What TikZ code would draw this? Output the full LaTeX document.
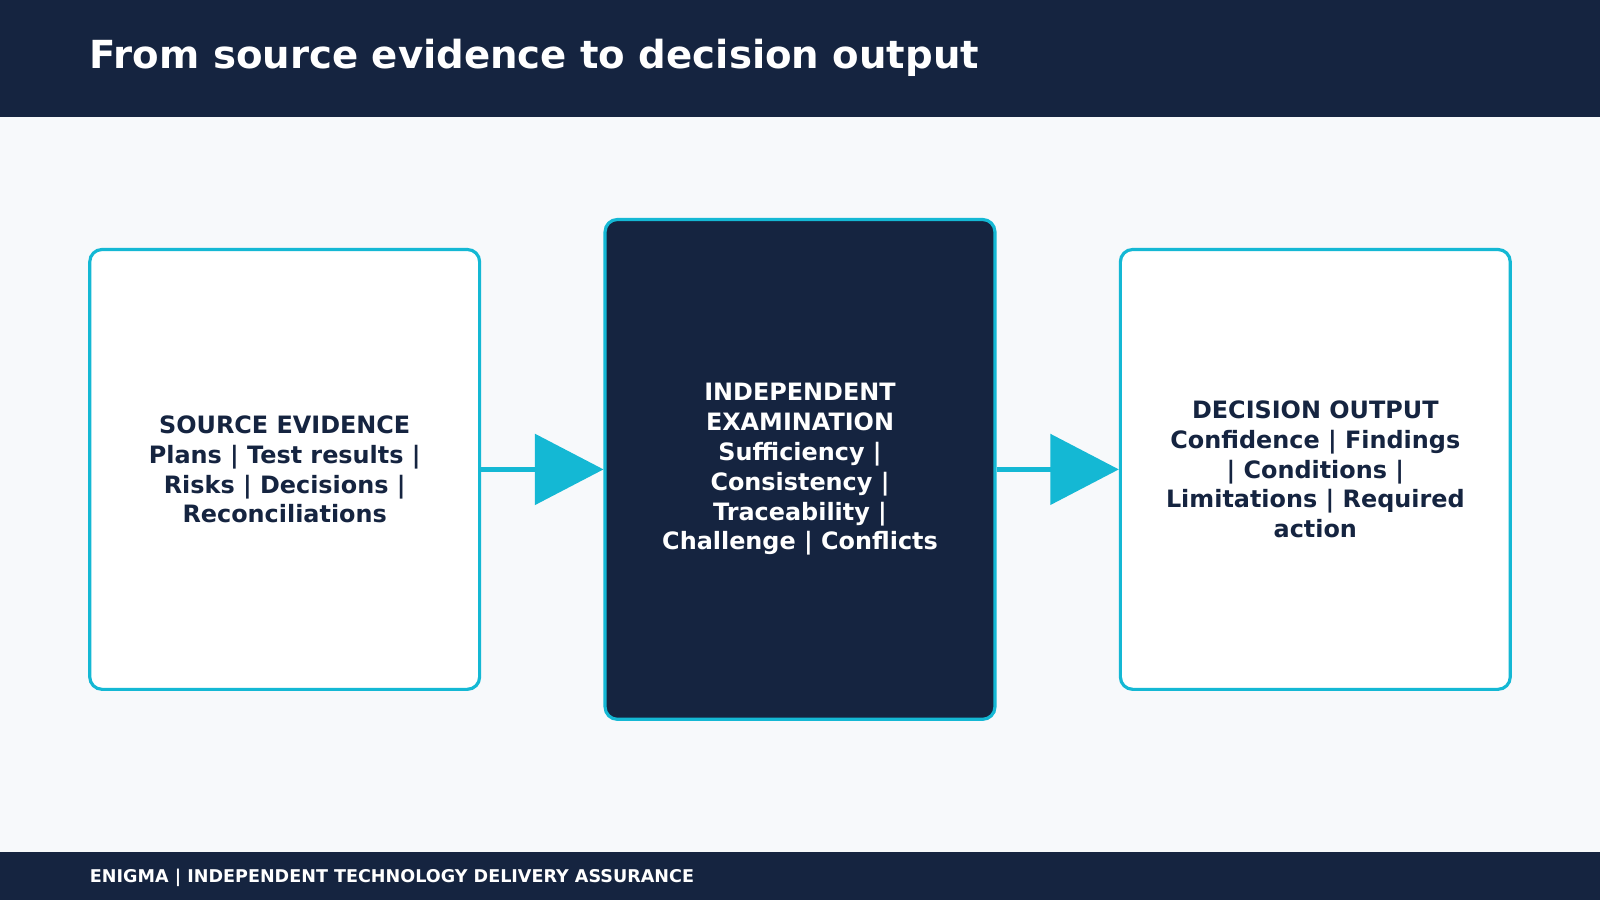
\documentclass[tikz,border=0pt]{standalone}
\usepackage{fontspec}
\setmainfont{DejaVu Sans}
\usetikzlibrary{arrows.meta,positioning}
\definecolor{navy}{HTML}{152440}
\definecolor{cyanline}{HTML}{14B8D4}
\definecolor{paper}{HTML}{F7F9FB}
\tikzset{
  stage/.style={draw=cyanline,line width=0.9pt,rounded corners=3.5pt,minimum width=3.9cm,align=center,font=\bfseries\fontsize{6.8}{8.5}\selectfont},
  flow/.style={draw=cyanline,line width=1.2pt,-{Triangle[length=19.5pt,width=20pt]}}
}
\begin{document}
\begin{tikzpicture}[x=0.010204cm,y=-0.010204cm]
  \useasboundingbox (0,0) rectangle (1568,882);
  \fill[paper] (0,0) rectangle (1568,882);
  \fill[navy] (0,0) rectangle (1568,115);
  \fill[navy] (0,835) rectangle (1568,882);
  \node[anchor=west,text=white,font=\bfseries\fontsize{11}{13}\selectfont] (title) at (76,57) {From source evidence to decision output};
  \node[anchor=west,text=white,font=\bfseries\fontsize{5}{6}\selectfont] (footer) at (76,860) {ENIGMA | INDEPENDENT TECHNOLOGY DELIVERY ASSURANCE};

  \node[stage,fill=white,text=navy,minimum height=4.4cm] (source) at (279,460) {SOURCE EVIDENCE\\Plans | Test results |\\Risks | Decisions |\\Reconciliations};
  \node[stage,fill=navy,text=white,minimum height=5.0cm] (exam) at (784,460) {INDEPENDENT\\EXAMINATION\\Sufficiency |\\Consistency |\\Traceability |\\Challenge | Conflicts};
  \node[stage,fill=white,text=navy,minimum height=4.4cm] (output) at (1289,460) {DECISION OUTPUT\\Confidence | Findings\\| Conditions |\\Limitations | Required\\action};

  \draw[flow] (source.east) -- (exam.west);
  \draw[flow] (exam.east) -- (output.west);
\end{tikzpicture}
\end{document}
